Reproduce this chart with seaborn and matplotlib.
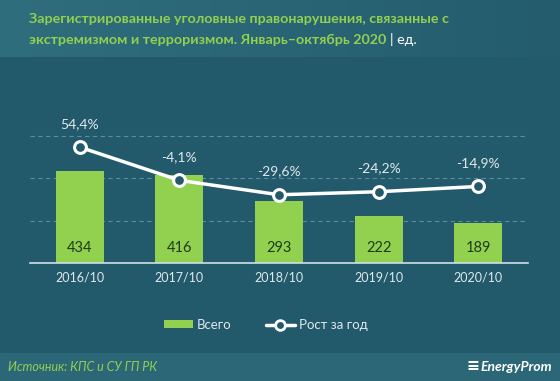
import numpy as np
import pandas as pd
import matplotlib
matplotlib.use("Agg")
import matplotlib.pyplot as plt
import seaborn as sns
from matplotlib.lines import Line2D
from matplotlib.patches import Patch
from matplotlib.colors import LinearSegmentedColormap

# data
periods = ["2016/10", "2017/10", "2018/10", "2019/10", "2020/10"]
totals = [434, 416, 293, 222, 189]
growth = [54.4, -4.1, -29.6, -24.2, -14.9]

BG = "#225a6b"
GREEN = "#92d050"
TEXT = "#dfe8ec"

sns.set_style("white")
plt.rcParams["font.family"] = ["Lato", "DejaVu Sans"]

df = pd.DataFrame({"period": periods, "total": totals, "growth": growth})

fig = plt.figure(figsize=(5.6, 3.81), dpi=100)
fig.patch.set_facecolor(BG)


def band(rect, c_left, c_right):
    # horizontal gradient strip behind header / footer
    bax = fig.add_axes(rect, zorder=-5)
    cmap = LinearSegmentedColormap.from_list("g", [c_left, c_right])
    bax.imshow(np.linspace(0, 1, 256)[None, :], aspect="auto", cmap=cmap,
               extent=[0, 1, 0, 1])
    bax.axis("off")


band([0, 1 - 57 / 381, 1, 57 / 381], "#2f6e7d", "#245c6d")
band([0, 0, 1, 28 / 381], "#2b6878", "#2b6777")

ax = fig.add_axes([30 / 560, (381 - 263) / 381, 498 / 560, 170 / 381])
ax.set_facecolor(BG)

sns.barplot(data=df, x="period", y="total", color=GREEN, width=0.48,
            saturation=1, linewidth=0, ax=ax, zorder=2)
ax.set_ylim(0, 800)
ax.set_xlim(-0.5, 4.5)
ax.set_yticks([200, 400, 600])
ax.yaxis.grid(True, color="#5f8c9a", linestyle=(0, (4, 3)), linewidth=0.8)
ax.set_axisbelow(True)
ax.tick_params(axis="y", left=False, length=0, labelleft=False)
ax.tick_params(axis="x", bottom=False, length=0, colors=TEXT, labelsize=9, pad=6)
ax.set_xlabel("")
ax.set_ylabel("")
for s in ["top", "right", "left"]:
    ax.spines[s].set_visible(False)
ax.spines["bottom"].set_color("#cfe0e6")
ax.spines["bottom"].set_linewidth(1.2)

for i, v in enumerate(totals):
    ax.text(i, 70, str(v), ha="center", va="center", fontsize=10.5, color="#1f3b1a")

ax2 = ax.twinx()
ax2.set_ylim(-150, 150)
ax2.axis("off")
sns.lineplot(x=np.arange(len(growth)), y=growth, ax=ax2, color="white", linewidth=2.5,
             marker="o", markersize=8.5, markerfacecolor=BG, markeredgecolor="white",
             markeredgewidth=2.2, zorder=3)
for i, g in enumerate(growth):
    ax2.text(i, g + 41, f"{g:.1f}%".replace(".", ","), ha="center", va="center",
             fontsize=10, color=TEXT)

# title
fig.text(29 / 560, 1 - 19 / 381,
         "Зарегистрированные уголовные правонарушения, связанные с",
         fontsize=10.3, fontweight="bold", color=GREEN, va="center")
t = fig.text(29 / 560, 1 - 40 / 381,
             "экстремизмом и терроризмом. Январь–октябрь 2020",
             fontsize=10.3, fontweight="bold", color=GREEN, va="center")
fig.canvas.draw()
bb = t.get_window_extent()
fig.text((bb.x1 + 4) / 560, 1 - 40 / 381, "| ед.", fontsize=10.3, color="white", va="center")

# legend
handles = [Patch(facecolor=GREEN, edgecolor="none", label="Всего"),
           Line2D([0], [0], color="white", linewidth=2.5, marker="o", markersize=7,
                  markerfacecolor=BG, markeredgecolor="white", markeredgewidth=2,
                  label="Рост за год")]
leg = fig.legend(handles=handles, loc="center", bbox_to_anchor=(0.474, 1 - 325 / 381),
                 ncol=2, frameon=False, fontsize=9.5, labelcolor=TEXT,
                 handlelength=2.2, handleheight=0.55, columnspacing=2.6, handletextpad=0.3)

# footer
fig.text(8 / 560, 14 / 381, "Источник: КПС и СУ ГП РК", fontsize=9, style="italic",
         color=GREEN, va="center")
fig.text(552 / 560, 14 / 381, "EnergyProm", fontsize=10, fontweight="bold", style="italic",
         color="white", ha="right", va="center")
fig.text(466 / 560, 15 / 381, "≡", fontsize=16, fontweight="bold", color="white",
         ha="left", va="center")

fig.savefig("out.png", dpi=100, facecolor=fig.get_facecolor())
